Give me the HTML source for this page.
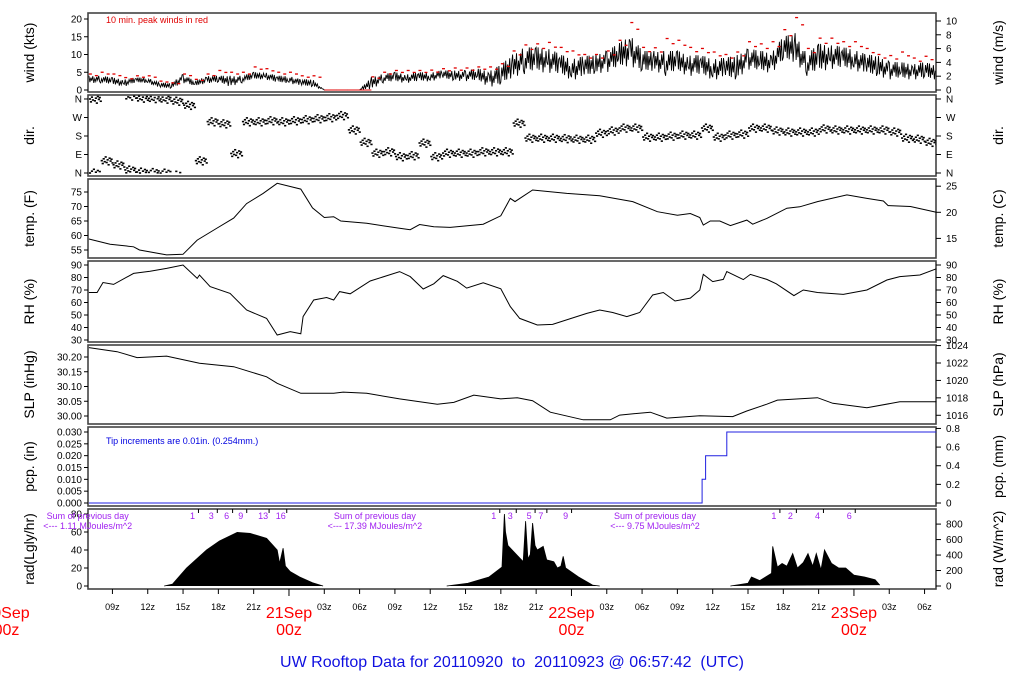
<!DOCTYPE html>
<html><head><meta charset="utf-8"><style>
body{margin:0;background:#fff;}
svg{display:block;font-family:"Liberation Sans",sans-serif;}
</style></head><body>
<svg id="c" width="1024" height="700" viewBox="0 0 1024 700" xmlns="http://www.w3.org/2000/svg">
<text x="106" y="23" font-size="9" fill="#e00000">10 min. peak winds in red</text>
<text x="106" y="444" font-size="9" fill="#0000e0">Tip increments are 0.01in. (0.254mm.)</text>
<text x="512" y="667" font-size="16" fill="#1010e0" text-anchor="middle" xml:space="preserve">UW Rooftop Data for 20110920  to  20110923 @ 06:57:42  (UTC)</text>
</svg>
<script>
// ---- data (hours since 2011-09-20 00z) ----
const hourStart = 7;
const windLo = [2,2,1.5,1,2,2,0.5,0.5,2,1,2,2,1,2,3,3,2,2,1,1,0,0,0,0,0.3,2,2.3,2,2.3,2.5,3,2.7,2.5,2.5,1,1,3.7,4.5,5,5,4,3,3,4.7,5,6,7,4.5,5.6,4,5,4,4,3,3,3,5.8,5,5,7.8,8,4,5,6,5.8,5.8,4,4,3,3,3,3,3];
const windHi = [4,4,3.5,3,3.5,3.5,2,2,4.5,2.5,4,4,4,4,5,5,4,4,3,3,0,0,0,0,3.7,4.5,5,4.5,5,5,5.5,5.5,5.5,6,5.5,7,10,12,12,12,10,9,9.4,10,11,13,15.8,11,11,11,11,10,9.7,9,9,9.7,11.7,11,10.7,15,16,10,13,13,12,11.7,10,9.7,8,7.8,7.5,7.8,7];
const windPk = [4.5,5,4.5,3.5,4,4,2.5,2,4.5,3,4.5,5.5,5,5,6.5,6,5,5,4,4,0,0,0,0,3.7,5,5.5,5.5,5.5,5.6,6,6.2,6.2,6.5,6.5,7.4,11,12.7,13,13.4,12,11,10,10,11,14,19,12,11.9,14.5,14,12,11.7,10.7,10,10.7,13.6,13,13.6,17,20.4,11.7,14.6,14.6,13.6,13.6,11.7,10,9.7,10.7,9,9.5,8];
const dirDeg = [0,60,40,15,5,3,0,350,330,60,250,240,95,250,250,255,250,255,260,265,270,280,210,150,97,104,80,85,146,80,97,97,97,104,104,104,243,170,170,170,168,165,165,194,205,219,219,175,175,180,185,185,219,175,185,190,219,219,205,200,200,200,215,210,210,210,210,210,200,170,165,150,146];
const tempH = [7,8.8,10.8,11.3,13.6,15,16.2,17.9,19.3,20.4,21.8,23,25,26,27,27.8,28.4,30.6,33.4,34.3,35.1,36.3,37.7,40.5,42,42.8,43.2,44.7,47.6,50.4,53.2,55.3,57,58.1,58.9,59.2,59.8,60.6,61.5,62.9,63.4,64.6,66.3,67.4,68.9,71.4,73.1,74.5,74.9,76.8,79];
const tempF = [58.8,57,56.1,55,53.3,53.5,58.4,62.6,66,71,74.5,78,76,69.5,66.2,66.5,65,64.2,62.5,62,63.8,63,62.8,63.9,66.8,72.8,71.7,75.7,74.5,73.7,71.7,68.2,67,67.6,66.2,63.6,65,65,63.4,65.3,63.9,65.9,69.4,69.9,71.7,74,72.8,71.9,70.3,70,68];
const rhH = [7,7.7,8.2,9.1,10.8,12.2,13.6,15,16.2,16.4,17.3,19,20.4,22.1,23,24.1,25,25.2,26.1,27.2,27.8,28.3,29.2,30.9,33.4,34.3,35.4,36.3,37.1,38.3,39.1,40.5,42,42.8,43.6,45.1,46.4,49.3,50.4,51.5,52.7,53.8,54.9,55.8,56.8,58.1,58.9,59.2,60,60.9,61.2,62.6,63.2,64.6,65.4,66.9,67.7,68.9,71.1,73.1,74.8,75.9,77.6,79];
const rhPct = [68,68,76,74.5,83.3,85,87.3,90,79.3,82,72.7,67.3,54,47.3,34,36.7,35,48.7,62,64,62,68.7,67,77.2,84.7,80.7,70.8,75,81.5,77,71.5,75.8,71,56.7,47.3,42,42.5,51.3,54,52,48.7,52,66,68,61.2,63.5,70,82.5,76.7,78.5,84.7,78.3,82.5,78.5,75,65.5,70,68,66.5,70,78,80.7,82,87];
const slpH = [7,9.4,11.1,13.6,16.4,19.3,22.1,23,25,27.8,28.6,30.6,33.4,36.6,38,39.7,42,43.4,44.7,46.2,49,51.3,52.1,54.7,56.1,58.9,61.7,62.9,64.6,65.5,68.9,70.2,73.1,75.9,79];
const slpIn = [30.232,30.218,30.198,30.203,30.179,30.167,30.133,30.111,30.077,30.077,30.081,30.077,30.058,30.040,30.046,30.071,30.058,30.062,30.052,30.013,29.987,29.987,30.003,30.013,29.993,30.001,29.998,30.017,30.040,30.054,30.062,30.043,30.028,30.048,30.048];
const pcpH = [7,59.1,59.4,61.2,79];
const pcpIn = [0,0.01,0.02,0.03,0.03];
const radH = [13.4,14.1,15.3,17,18.1,19.6,20.7,22.1,23,23.2,23.5,23.7,24.1,24.9,26,26.9,
  37.4,39.2,41,42.1,42.3,42.4,42.6,43.1,43.9,44.1,44.3,44.5,44.7,44.9,45.1,45.6,45.9,46.5,46.8,47.1,47.3,47.5,48.6,49.8,50.4,
  61.5,63,63.3,64,65,65.1,65.5,65.9,66.3,66.8,67.2,67.7,68.1,68.5,68.8,69.2,69.5,70.1,70.7,71.3,72,72.9,73.8,74.2];
const radLgly = [0,2,20,40,50,59.6,58.5,53,40,25,42,22,16,10,3.7,0,
  0,3,10,21,80,60,45,38,27,72,30,35,70,45,40,44,29,27,20,22,33,20,10,1,0,
  0,3,10,6,14,44,21,25,22,36,20,26,36,22,36,18,40,25,20,20,12,10,7,1,0];
const xTickHours = [9,12,15,18,21,27,30,33,36,39,42,45,51,54,57,60,63,66,69,75,78];
const dateHours = [0,24,48,72];
const dateLabels = ["20Sep","21Sep","22Sep","23Sep"];
const radNumLabels = [["1","3","6","9","13","16"],["1","3","5","7","9"],["1","2","4","6"]];
const radNumHours = [[15.8,17.4,18.7,19.9,21.8,23.3],[41.4,42.8,44.4,45.4,47.5],[65.2,66.6,68.9,71.6]];
const radSums = ["1.11","17.39","9.75"];
const radSumHours = [3.5,31.3,55.1];

// ---- geometry ----
const svg = document.getElementById('c');
const NS = 'http://www.w3.org/2000/svg';
const X0 = 88, X1 = 936;
const xOf = h => 6.5 + h*11.77;
const P = {wind:[13,92],dir:[95,176],temp:[179,258],rh:[261,342],slp:[345,424],pcp:[427,506],rad:[509,589]};
const yWind = v => 90 - v*3.55;
const yDir = d => 173 - d*0.2056;
const yTemp = f => 192 + (75-f)*2.9;
const yRh = r => 265 + (90-r)*1.25;
const ySlp = p => 357 + (30.20-p)*295;
const yPcp = p => 503 - p*2367;
const yRad = r => 586 - r*0.9;

function mk(tag, attrs, parent){
  const e = document.createElementNS(NS, tag);
  for (const k in attrs) e.setAttribute(k, attrs[k]);
  (parent||svg).appendChild(e);
  return e;
}
function txt(x,y,s,size,fill,anchor,parent){
  const t = mk('text',{x:x,y:y,'font-size':size,fill:fill,'text-anchor':anchor||'start'},parent);
  t.textContent = s; return t;
}
function clipFor(name, top, bot){
  const cp = mk('clipPath',{id:'clip-'+name});
  mk('rect',{x:X0,y:top,width:X1-X0,height:bot-top},cp);
}

const panelInfo = [
 ['wind','wind (kts)','wind (m/s)'],['dir','dir.','dir.'],['temp','temp. (F)','temp. (C)'],
 ['rh','RH (%)','RH (%)'],['slp','SLP (inHg)','SLP (hPa)'],['pcp','pcp. (in)','pcp. (mm)'],['rad','rad(Lgly/hr)','rad (W/m^2)']];
for (const [k,l,r] of panelInfo){
  const [t,b] = P[k];
  clipFor(k,t,b);
  const rect = mk('rect',{x:X0,y:t,width:X1-X0,height:b-t,fill:'none',stroke:'#444','stroke-width':1.6});
  
  
  const cy = (t+b)/2;
  const lt = txt(0,0,l,14,'#000','middle');
  lt.setAttribute('transform','translate(34,'+cy+') rotate(-90)');
  
  
  const rt = txt(0,0,r,14,'#000','middle');
  rt.setAttribute('transform','translate(1003,'+cy+') rotate(-90)');
  
  
}

function leftTicks(vals, yf, fmt, name){
  const g = mk('g',{});
  
  
  for (const v of vals){ const y=yf(v);
    mk('line',{x1:X0-4,x2:X0,y1:y,y2:y,stroke:'#000'},g);
    txt(X0-6,y+3.5,fmt(v),10,'#000','end',g); }
}
function rightTicks(vals, yf, fmt, name){
  const g = mk('g',{});
  
  
  for (const v of vals){ const y=yf(v);
    mk('line',{x1:X1,x2:X1+5,y1:y,y2:y,stroke:'#000'},g);
    txt(X1+10,y+3.5,fmt(v),10,'#000','start',g); }
}
leftTicks([0,5,10,15,20],yWind,v=>String(v),'wind');
rightTicks([0,2,4,6,8,10],v=>yWind(v*1.944),v=>String(v),'wind');
const dirL = ['N','E','S','W','N'];
leftTicks([0,90,180,270,360],yDir,v=>dirL[v/90],'dir');
rightTicks([0,90,180,270,360],yDir,v=>dirL[v/90],'dir');
leftTicks([55,60,65,70,75],yTemp,v=>String(v),'temp');
rightTicks([15,20,25],c=>yTemp(c*1.8+32),v=>String(v),'temp');
leftTicks([30,40,50,60,70,80,90],yRh,v=>String(v),'rh');
rightTicks([30,40,50,60,70,80,90],yRh,v=>String(v),'rh');
leftTicks([30.00,30.05,30.10,30.15,30.20],ySlp,v=>v.toFixed(2),'slp');
rightTicks([1016,1018,1020,1022,1024],h=>ySlp(h/33.8639),v=>String(v),'slp');
leftTicks([0,0.005,0.01,0.015,0.02,0.025,0.03],yPcp,v=>v.toFixed(3),'pcp');
rightTicks([0,0.2,0.4,0.6,0.8],m=>yPcp(m/25.4),v=>v===0?'0':v.toFixed(1),'pcp');
leftTicks([0,20,40,60,80],yRad,v=>String(v),'rad');
rightTicks([0,200,400,600,800],w=>yRad(w/11.63),v=>String(v),'rad');

// x axis
const xg = mk('g',{});


for (const h of xTickHours){ const x=xOf(h);
  mk('line',{x1:x,x2:x,y1:589,y2:594,stroke:'#000'},xg);
  const hh = h%24; txt(x,610,(hh<10?'0':'')+hh+'z',9,'#000','middle',xg); }
dateHours.forEach((h,i)=>{ const x=xOf(h);
  if (x>X0) mk('line',{x1:x,x2:x,y1:589,y2:596,stroke:'#000'},xg);
  txt(x,618,dateLabels[i],16,'#ff0000','middle',xg);
  txt(x,635,'00z',16,'#ff0000','middle',xg); });

// wind series (noisy band drawn between lo/hi)
{
  let d=''; const pat=[1,0.1,0.75,0.3,0.95,0,0.6,0.2,0.85,0.4,1,0.15];
  const steps=pat.length;
  for (let i=0;i<windLo.length-1;i++){
    for (let s=0;s<steps;s++){
      const f=s/steps, h=hourStart+i+f;
      const lo=windLo[i]+(windLo[i+1]-windLo[i])*f, hi=windHi[i]+(windHi[i+1]-windHi[i])*f;
      const v = lo+(hi-lo)*pat[(s+i*5)%steps];
      d += (d?'L':'M')+xOf(h).toFixed(1)+' '+yWind(v).toFixed(1);
    }
  }
  const p = mk('path',{d:d,fill:'none',stroke:'#000','stroke-width':0.9,'clip-path':'url(#clip-wind)'});
  
  
  const pg = mk('g',{'clip-path':'url(#clip-wind)'});
  
  
  windPk.forEach((v,i)=>{
    const x=xOf(hourStart+i);
    if (v===0){ mk('line',{x1:x,x2:x+11.8,y1:yWind(0),y2:yWind(0),stroke:'#e00000','stroke-width':1},pg); return; }
    mk('line',{x1:x,x2:x+3,y1:yWind(v),y2:yWind(v),stroke:'#e00000','stroke-width':1.3},pg);
    mk('line',{x1:x+6,x2:x+9,y1:yWind(v*0.9),y2:yWind(v*0.9),stroke:'#e00000','stroke-width':1.3},pg);
  });
}
// direction dots
{
  const g = mk('g',{'clip-path':'url(#clip-dir)'});
  
  
  const offs=[0,-14,9,-5,18,-9,4,-20,12,-2,7,-11];
  dirDeg.forEach((d,i)=>{
    offs.forEach((o,k)=>{
      let v=(d+o+360)%360; const x=xOf(hourStart+i+k/offs.length);
      mk('rect',{x:x,y:yDir(v)-0.8,width:2.2,height:1.6,fill:'#000'},g);
      if (v<15) mk('rect',{x:x,y:yDir(v+360)-0.8,width:2.2,height:1.6,fill:'#000'},g);
    });
  });
}
function line(hs, vs, yf, name, color, step){
  let d='';
  hs.forEach((h,i)=>{
    const x=xOf(h).toFixed(1), y=yf(vs[i]).toFixed(1);
    if (!d) d='M'+x+' '+y;
    else if (step) d+='H'+x+'V'+y;
    else d+='L'+x+' '+y;
  });
  const p = mk('path',{d:d,fill:'none',stroke:color||'#000','stroke-width':1});
  
  
  return p;
}
line(tempH,tempF,yTemp,'temperature-line');
line(rhH,rhPct,yRh,'rh-line');
line(slpH,slpIn,ySlp,'slp-line');
line(pcpH,pcpIn,yPcp,'precip-line','#2020e0',true);
// radiation area
{
  let d='';
  radH.forEach((h,i)=>{
    const x=xOf(h).toFixed(1), y=yRad(radLgly[i]).toFixed(1);
    if (i===0 || (radLgly[i]===0 && radH[i]-radH[i-1]>3)) d+='M'+x+' '+yRad(0)+'L'+x+' '+y;
    else d+='L'+x+' '+y;
  });
  const p = mk('path',{d:d,fill:'#000',stroke:'#000','stroke-width':0.8});
  
  
}
// radiation annotations
{
  const g = mk('g',{});
  
  
  radNumLabels.forEach((arr,j)=>arr.forEach((s,i)=>{
    const x=xOf(radNumHours[j][i]);
    txt(x,519,s,9,'#a020f0','middle',g);
    mk('line',{x1:x+6,x2:x+6,y1:509,y2:513,stroke:'#000'},g);
  }));
  radSums.forEach((s,i)=>{
    const x=xOf(radSumHours[i])+ (i===0?40:0);
    txt(x,519,'Sum of previous day',9,'#a020f0','middle',g);
    txt(x,529,'<--- '+s+' MJoules/m^2',9,'#a020f0','middle',g);
  });
}
</script>
</body></html>
